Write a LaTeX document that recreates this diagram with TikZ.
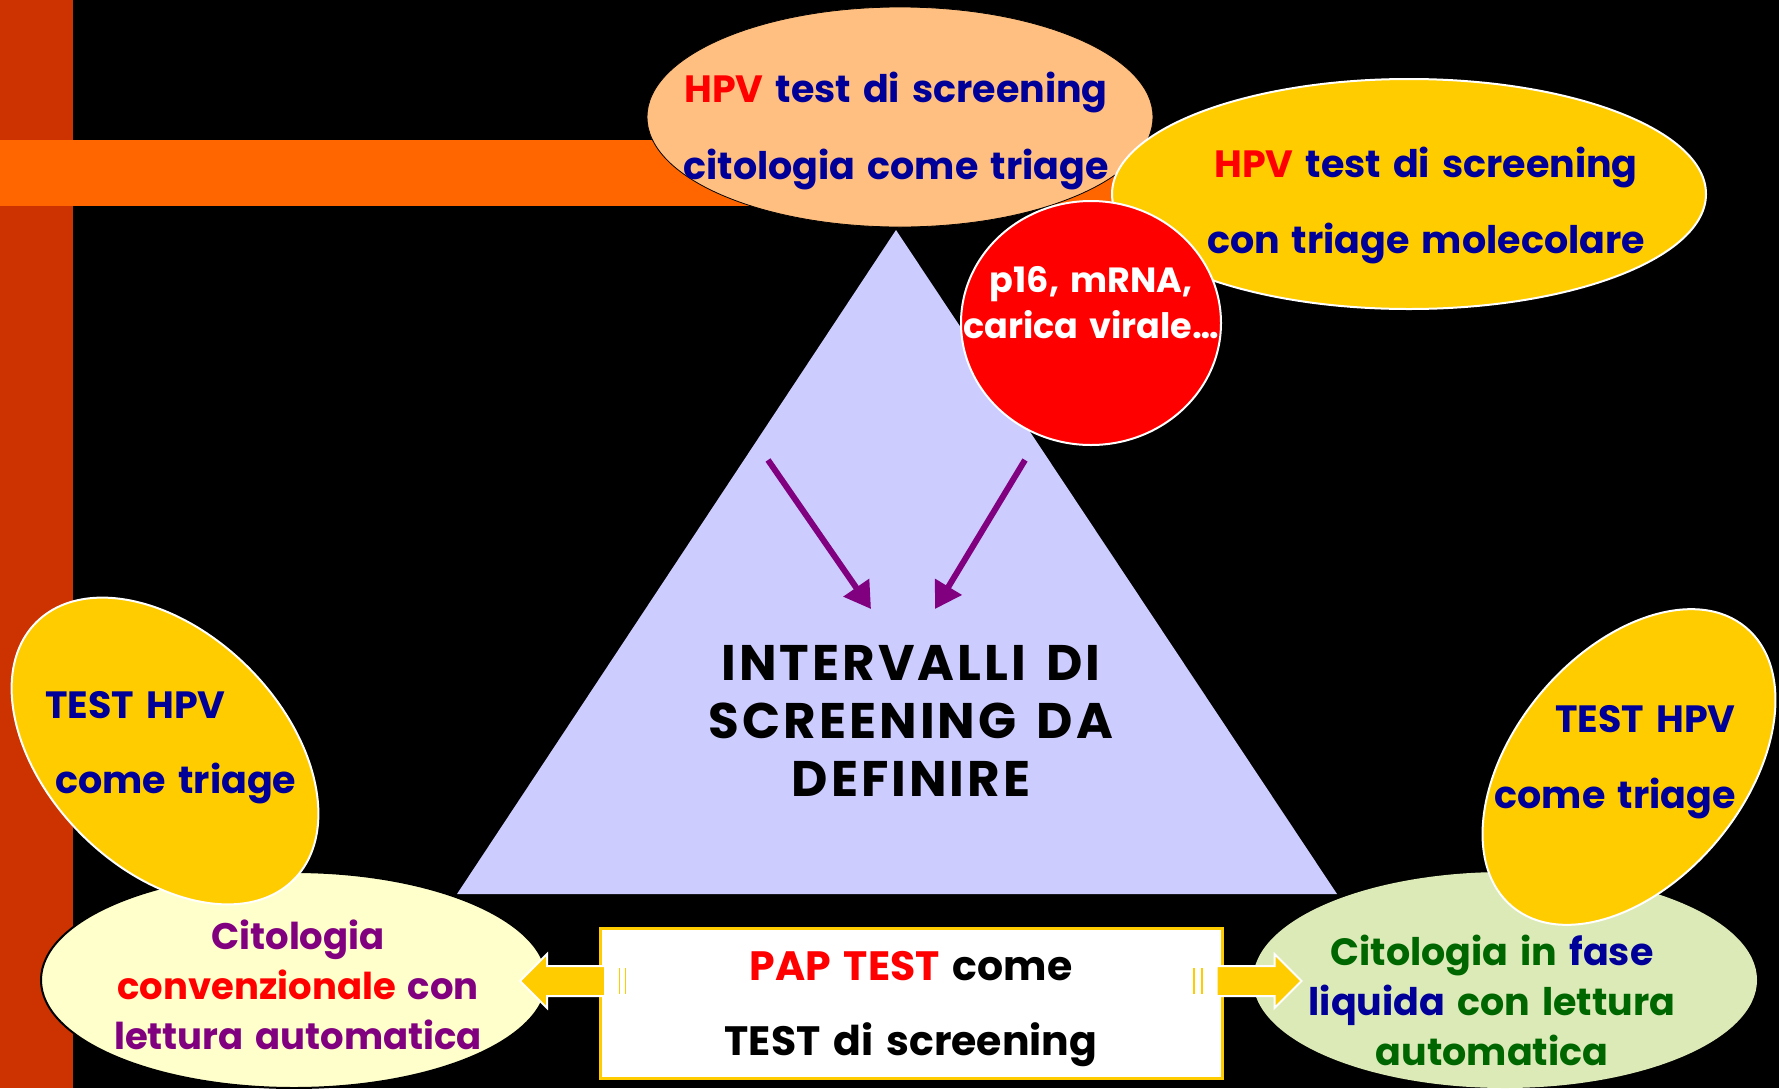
\documentclass[tikz,border=0pt]{standalone}
\usepackage{fontspec}
\setmainfont{Poppins}[WordSpace=1.5]
\usetikzlibrary{shapes.geometric,shapes.arrows,arrows.meta}
\definecolor{barred}{HTML}{CC3300}
\definecolor{barorange}{HTML}{FF6600}
\definecolor{peach}{HTML}{FFBF80}
\definecolor{gold}{HTML}{FFCC00}
\definecolor{lavender}{HTML}{CCCCFF}
\definecolor{navy}{HTML}{000099}
\definecolor{plum}{HTML}{800080}
\definecolor{leafgreen}{HTML}{006600}
\definecolor{cream}{HTML}{FFFFCC}
\definecolor{sage}{HTML}{DCEAB8}
\definecolor{hotred}{HTML}{FF0000}
\newcommand\txtsize[2]{\fontsize{#1}{#2}\selectfont\bfseries}
\begin{document}
\begin{tikzpicture}[x=0.5pt,y=-0.5pt,
  blob/.style={ellipse,inner sep=0pt},
  txt/.style={align=center,inner sep=0pt},
  bigarrow/.style={single arrow,fill=gold,draw=white,line width=1pt,inner xsep=0pt,inner ysep=7pt,
    single arrow head extend=6pt,minimum height=42.5pt},
  stripe/.style={fill=gold,draw=white,line width=0.6pt},
  purparrow/.style={draw=plum,line width=3pt,-{Triangle[length=13pt,width=15pt]}}]
\useasboundingbox (0,0) rectangle (1779,1088);
\fill[black] (0,0) rectangle (1779,1088);
\fill[barred] (0,0) rectangle (73,1088);
\fill[barorange] (0,140) rectangle (1115,206);
\fill[lavender] (896,230) -- (1337,894) -- (457,894) -- cycle;
\path
	(900,117) node [blob,fill=peach,draw=black,minimum width=253pt,minimum height=110pt] (peach) {}
	(1409,194) node [blob,fill=gold,draw=white,line width=1pt,minimum width=297pt,minimum height=115pt] (molec) {}
	(1091,323) node [blob,fill=hotred,draw=white,line width=1pt,minimum width=130pt,minimum height=122pt] (markers) {};
\path
	(896,131) node [txt,text=navy,font=\txtsize{19}{39}] (peachtxt) {\textcolor{hotred}{HPV} test di screening\\citologia come triage}
	(1426,205) node [txt,text=navy,font=\txtsize{19}{38}] (molectxt) {\textcolor{hotred}{HPV} test di screening\\con triage molecolare}
	(1091,303) node [txt,text=white,font=\txtsize{17.5}{23}] (markerstxt) {p16, mRNA,\\carica virale\dots};
\coordinate (pl1) at (768,460);
\coordinate (pl2) at (871,609);
\coordinate (pr1) at (1025,460);
\coordinate (pr2) at (935,609);
\draw[purparrow] (pl1) -- (pl2);
\draw[purparrow] (pr1) -- (pr2);
\path (911,721) node [txt,text=black,font=\txtsize{25}{29}\addfontfeatures{LetterSpace=6}] (interv) {INTERVALLI DI\\SCREENING DA\\DEFINIRE};
\path
	(294,980) node [blob,fill=cream,draw=black,line width=1pt,minimum width=253pt,minimum height=108pt] (conv) {}
	(1505,980) node [blob,fill=sage,minimum width=252pt,minimum height=108pt] (liq) {}
	(165,751) node [blob,fill=gold,draw=white,line width=1pt,rotate=-45,minimum width=182pt,minimum height=118pt] (triageL) {}
	(1629,767) node [blob,fill=gold,draw=white,line width=1pt,rotate=50,minimum width=182pt,minimum height=115pt] (triageR) {}
	(911,1003) node [draw=gold,fill=white,line width=1.5pt,minimum width=311pt,minimum height=75pt] (pap) {};
\path
	(45,748) node [txt,anchor=west,align=left,text=navy,font=\txtsize{19}{37.5}] (triageLtxt) {TEST HPV\\\hspace{5pt}come triage}
	(1736,762) node [txt,anchor=east,align=right,text=navy,font=\txtsize{19}{38}] (triageRtxt) {TEST HPV\\come triage}
	(298,985) node [txt,text=plum,font=\txtsize{18.5}{25}] (convtxt) {Citologia\\\textcolor{hotred}{convenzionale} con\\lettura automatica}
	(1492,1000) node [txt,text=leafgreen,font=\txtsize{19}{25}] (liqtxt) {Citologia in \textcolor{navy}{fase}\\\textcolor{navy}{liquida} con lettura\\automatica}
	(911,1009) node [txt,text=black,font=\txtsize{20.5}{37.5}] (paptxt) {\textcolor{hotred}{PAP TEST} come\\TEST di screening};
\path
	(570,981) node [bigarrow,shape border rotate=180] (toconv) {}
	(1251.5,981) node [bigarrow] (toliq) {};
\path[stripe] (618,967) rectangle (621,995) (624,967) rectangle (627,995)
	(1192,967) rectangle (1196,995) (1200,967) rectangle (1204,995);
\end{tikzpicture}
\end{document}
